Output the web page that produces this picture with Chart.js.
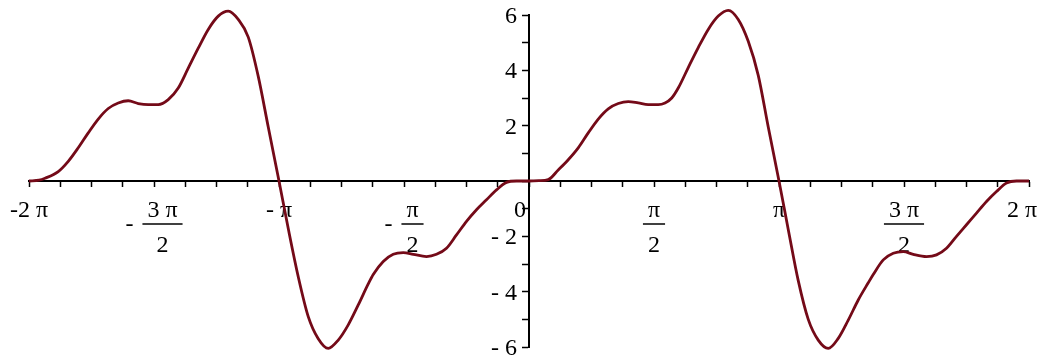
<!DOCTYPE html>
<html>
<head>
<meta charset="utf-8">
<script src="https://cdn.jsdelivr.net/npm/chart.js@4.4.1/dist/chart.umd.min.js"></script>
<style>
  html, body { margin: 0; padding: 0; background: #fff; }
  #plot { display: block; }
</style>
</head>
<body>
<canvas id="plot" width="1046" height="356"></canvas>
<script>
// Sample points of the curve, x given in multiples of pi
const xValues = [
  -2, -1.96, -1.936, -1.883, -1.843, -1.803, -1.763, -1.723, -1.683, -1.643,
  -1.603, -1.563, -1.523, -1.483, -1.443, -1.403, -1.363, -1.323, -1.283, -1.243,
  -1.203, -1.163, -1.123, -1.083, -1.043, -1, -0.963, -0.923, -0.883, -0.843,
  -0.803, -0.763, -0.723, -0.683, -0.643, -0.623, -0.583, -0.543, -0.503, -0.463,
  -0.41, -0.37, -0.33, -0.29, -0.25, -0.21, -0.17, -0.13, -0.09, -0.05,
  0, 0.04, 0.077, 0.117, 0.157, 0.197, 0.237, 0.277, 0.317, 0.357,
  0.397, 0.437, 0.477, 0.517, 0.544, 0.571, 0.597, 0.637, 0.677, 0.717,
  0.757, 0.797, 0.837, 0.877, 0.917, 0.957, 1, 1.037, 1.077, 1.117,
  1.157, 1.197, 1.237, 1.277, 1.317, 1.357, 1.377, 1.417, 1.457, 1.497,
  1.537, 1.59, 1.63, 1.67, 1.71, 1.75, 1.79, 1.83, 1.87, 1.91,
  1.95, 2
];
const yValues = [
  0, 0.03, 0.1, 0.34, 0.71, 1.2, 1.74, 2.24, 2.62, 2.82,
  2.9, 2.8, 2.76, 2.76, 2.94, 3.36, 4.08, 4.8, 5.48, 5.96,
  6.14, 5.84, 5.2, 3.78, 1.95, 0, -1.72, -3.46, -4.9, -5.7,
  -6.05, -5.75, -5.2, -4.48, -3.72, -3.38, -2.91, -2.65, -2.59, -2.65,
  -2.73, -2.65, -2.43, -1.95, -1.46, -1.04, -0.68, -0.32, -0.05, 0,
  0, 0.01, 0.05, 0.4, 0.77, 1.2, 1.74, 2.24, 2.61, 2.8,
  2.87, 2.82, 2.76, 2.76, 2.82, 3.0, 3.36, 4.1, 4.82, 5.48,
  5.96, 6.17, 5.84, 5.05, 3.82, 1.95, 0, -1.75, -3.6, -5.0,
  -5.75, -6.05, -5.69, -5.03, -4.3, -3.68, -3.38, -2.85, -2.61, -2.55,
  -2.65, -2.73, -2.67, -2.43, -2.0, -1.58, -1.16, -0.74, -0.38, -0.07,
  0, 0
];

// Labelled x ticks (multiples of pi); fractions get a top, bottom and sign
const xLabelValues = [-2, -1.5, -1, -0.5, 0, 0.5, 1, 1.5, 2];
const xLabelSign   = ['', '-', '', '-', '', '', '', '', ''];
const xLabelTop    = ['-2 π', '3 π', '- π', 'π', '0', 'π', 'π', '3 π', '2 π'];
const xLabelBottom = [null, '2', null, '2', null, '2', null, '2', null];

// Labelled y ticks
const yLabelValues = [6, 4, 2, -2, -4, -6];
const yLabelText   = ['6', '4', '2', '- 2', '- 4', '- 6'];

const LABEL_FONT = '24px "Liberation Serif", "Times New Roman", serif';
const CURVE_COLOR = '#740a18';

const points = xValues.map((x, i) => ({ x: x, y: yValues[i] }));

// Draws the tick labels under the curve, Maple style with stacked fractions
const axisLabels = {
  id: 'axisLabels',
  beforeDatasetsDraw(chart) {
    const ctx = chart.ctx;
    const xs = chart.scales.x;
    const ys = chart.scales.y;
    const originX = xs.getPixelForValue(0);
    const originY = ys.getPixelForValue(0);

    ctx.save();
    ctx.fillStyle = '#000';
    ctx.strokeStyle = '#000';
    ctx.font = LABEL_FONT;
    ctx.textBaseline = 'alphabetic';

    // y axis numbers, to the left of the axis
    ctx.textAlign = 'right';
    yLabelValues.forEach((v, i) => {
      ctx.fillText(yLabelText[i], originX - 12, ys.getPixelForValue(v) + 8);
    });

    // x axis labels
    xLabelValues.forEach((v, i) => {
      const px = xs.getPixelForValue(v);
      const top = xLabelTop[i];
      const bottom = xLabelBottom[i];

      if (v === 0) {
        ctx.textAlign = 'right';
        ctx.fillText(top, originX - 3, originY + 36);
        return;
      }

      if (bottom === null) {
        const w = ctx.measureText(top).width;
        let cx = px;
        if (cx + w / 2 > chart.width - 9) cx = chart.width - 9 - w / 2;
        if (cx - w / 2 < 6) cx = 6 + w / 2;
        ctx.textAlign = 'center';
        ctx.fillText(top, cx, originY + 36);
        return;
      }

      // stacked fraction with optional leading minus
      const numW = ctx.measureText(top).width;
      const barW = numW + 10;
      const signW = xLabelSign[i] ? ctx.measureText(xLabelSign[i]).width + 9 : 0;
      const left = px - (signW + barW) / 2;
      const barX = left + signW;
      const barY = originY + 43;

      if (xLabelSign[i]) {
        ctx.textAlign = 'left';
        ctx.fillText(xLabelSign[i], left, barY + 7);
      }
      ctx.lineWidth = 1.5;
      ctx.beginPath();
      ctx.moveTo(barX, barY);
      ctx.lineTo(barX + barW, barY);
      ctx.stroke();

      ctx.textAlign = 'center';
      ctx.fillText(top, barX + barW / 2, originY + 36);
      ctx.fillText(bottom, barX + barW / 2, originY + 71);
    });

    ctx.restore();
  }
};

new Chart(document.getElementById('plot'), {
  type: 'line',
  data: {
    datasets: [{
      data: points,
      borderColor: CURVE_COLOR,
      borderWidth: 2.8,
      pointRadius: 0,
      fill: false,
      cubicInterpolationMode: 'monotone',
      clip: false
    }]
  },
  options: {
    responsive: false,
    animation: false,
    devicePixelRatio: 1,
    layout: {
      padding: { left: 29, right: 17, top: 15, bottom: 9 }
    },
    plugins: {
      legend: { display: false },
      tooltip: { enabled: false }
    },
    scales: {
      x: {
        type: 'linear',
        position: { y: 0 },
        min: -2,
        max: 2,
        ticks: { display: false, stepSize: 0.125, autoSkip: false },
        grid: {
          drawOnChartArea: false,
          tickLength: 5,
          tickColor: '#000',
          tickWidth: 1.5
        },
        border: { color: '#000', width: 2 }
      },
      y: {
        type: 'linear',
        position: { x: 0 },
        min: -6,
        max: 6,
        ticks: { display: false, stepSize: 1, autoSkip: false },
        grid: {
          drawOnChartArea: false,
          tickLength: 6,
          tickColor: '#000',
          tickWidth: 1.5
        },
        border: { color: '#000', width: 2 }
      }
    }
  },
  plugins: [axisLabels]
});
</script>
</body>
</html>
